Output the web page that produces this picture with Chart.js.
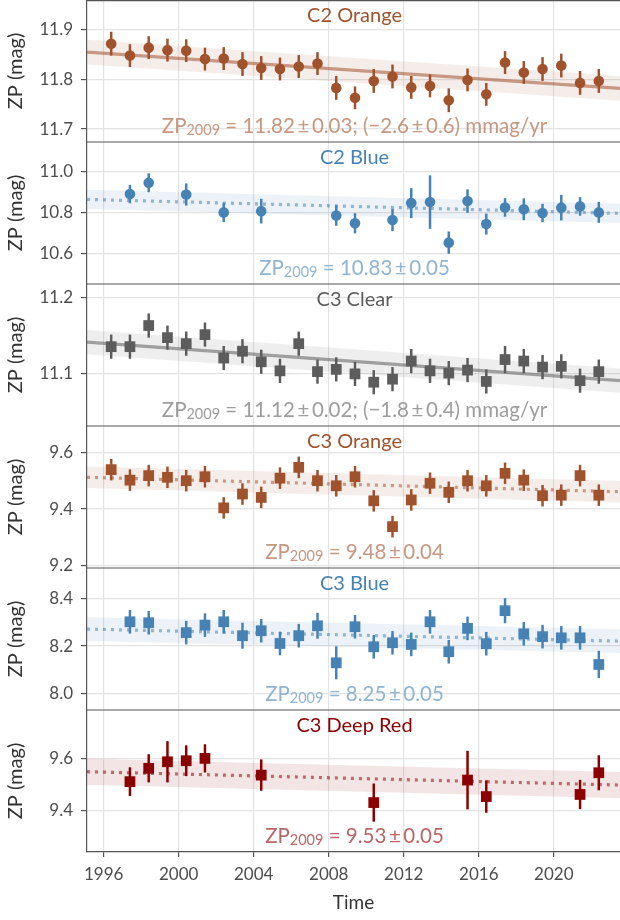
<!DOCTYPE html>
<html>
<head>
<meta charset="utf-8">
<script src="https://cdn.jsdelivr.net/npm/chart.js@4.4.1/dist/chart.umd.min.js"></script>
<style>
  html, body { margin: 0; padding: 0; background: #fff; }
  #wrap { width: 620px; height: 920px; position: relative; }
</style>
</head>
<body>
<div id="wrap"><canvas id="zp"></canvas></div>
<script>
var FONT = 'Lato, "Open Sans", sans-serif';

// time axis
var timeMin = 1995.11, timeMax = 2023.53;
var timeTicks = [1996, 2000, 2004, 2008, 2012, 2016, 2020];

// C2 Orange
var c2OrangeYears = [1996.4, 1997.4, 1998.4, 1999.4, 2000.4, 2001.4, 2002.4, 2003.4, 2004.4, 2005.4, 2006.4, 2007.4, 2008.4, 2009.4,
  2010.4, 2011.4, 2012.4, 2013.4, 2014.4, 2015.4, 2016.4, 2017.4, 2018.4, 2019.4, 2020.4, 2021.4, 2022.4];
var c2OrangeZP = [11.872, 11.848, 11.864, 11.859, 11.858, 11.841, 11.842, 11.831, 11.823, 11.821, 11.826, 11.832, 11.783, 11.763,
  11.797, 11.806, 11.784, 11.787, 11.758, 11.799, 11.770, 11.834, 11.814, 11.821, 11.828, 11.793, 11.797];
var c2OrangeErr = [0.024, 0.023, 0.023, 0.023, 0.023, 0.023, 0.023, 0.024, 0.024, 0.023, 0.023, 0.023, 0.024, 0.023,
  0.024, 0.024, 0.023, 0.023, 0.024, 0.023, 0.023, 0.023, 0.023, 0.024, 0.024, 0.024, 0.024];

// C2 Blue
var c2BlueYears = [1997.4, 1998.4, 2000.4, 2002.4, 2004.4, 2008.4, 2009.4, 2011.4, 2012.4, 2013.4, 2014.4, 2015.4, 2016.4,
  2017.4, 2018.4, 2019.4, 2020.4, 2021.4, 2022.4];
var c2BlueZP = [10.889, 10.944, 10.887, 10.800, 10.806, 10.785, 10.747, 10.763, 10.845, 10.850, 10.653, 10.855, 10.743,
  10.824, 10.815, 10.797, 10.823, 10.829, 10.800];
var c2BlueErr = [0.045, 0.046, 0.054, 0.047, 0.060, 0.050, 0.049, 0.054, 0.073, 0.130, 0.054, 0.057, 0.051,
  0.045, 0.053, 0.045, 0.062, 0.045, 0.051];

// C3 Clear
var c3ClearYears = c2OrangeYears.slice();
var c3ClearZP = [11.135, 11.135, 11.163, 11.147, 11.139, 11.151, 11.120, 11.129, 11.115, 11.103, 11.139, 11.102, 11.105, 11.099,
  11.088, 11.092, 11.116, 11.103, 11.100, 11.104, 11.089, 11.118, 11.116, 11.108, 11.109, 11.090, 11.102];
var c3ClearErr = [0.016, 0.016, 0.016, 0.016, 0.016, 0.016, 0.016, 0.016, 0.016, 0.016, 0.016, 0.016, 0.016, 0.016,
  0.016, 0.016, 0.016, 0.016, 0.016, 0.016, 0.016, 0.018, 0.016, 0.016, 0.016, 0.016, 0.016];

// C3 Orange
var c3OrangeYears = c2OrangeYears.slice();
var c3OrangeZP = [9.539, 9.502, 9.518, 9.512, 9.500, 9.514, 9.404, 9.453, 9.441, 9.509, 9.547, 9.500, 9.482, 9.514,
  9.429, 9.338, 9.432, 9.491, 9.459, 9.500, 9.482, 9.526, 9.502, 9.447, 9.449, 9.518, 9.449];
var c3OrangeErr = [0.038, 0.038, 0.038, 0.038, 0.038, 0.038, 0.038, 0.038, 0.038, 0.038, 0.038, 0.038, 0.038, 0.038,
  0.038, 0.038, 0.038, 0.038, 0.038, 0.038, 0.038, 0.038, 0.038, 0.038, 0.038, 0.038, 0.038];

// C3 Blue
var c3BlueYears = [1997.4, 1998.4, 2000.4, 2001.4, 2002.4, 2003.4, 2004.4, 2005.4, 2006.4, 2007.4, 2008.4, 2009.4, 2010.4,
  2011.4, 2012.4, 2013.4, 2014.4, 2015.4, 2016.4, 2017.4, 2018.4, 2019.4, 2020.4, 2021.4, 2022.4];
var c3BlueZP = [8.303, 8.299, 8.257, 8.289, 8.303, 8.244, 8.265, 8.211, 8.244, 8.286, 8.129, 8.282, 8.197,
  8.214, 8.207, 8.303, 8.176, 8.275, 8.210, 8.350, 8.252, 8.240, 8.235, 8.235, 8.122];
var c3BlueErr = [0.050, 0.050, 0.050, 0.050, 0.050, 0.055, 0.050, 0.050, 0.050, 0.055, 0.070, 0.050, 0.050,
  0.050, 0.050, 0.050, 0.050, 0.050, 0.050, 0.053, 0.050, 0.050, 0.050, 0.050, 0.058];

// C3 Deep Red
var c3DeepRedYears = [1997.4, 1998.4, 1999.4, 2000.4, 2001.4, 2004.4, 2010.4, 2015.4, 2016.4, 2021.4, 2022.4];
var c3DeepRedZP = [9.511, 9.562, 9.587, 9.591, 9.600, 9.536, 9.431, 9.517, 9.454, 9.462, 9.545];
var c3DeepRedErr = [0.055, 0.054, 0.079, 0.059, 0.054, 0.060, 0.073, 0.112, 0.062, 0.056, 0.067];

// fitted trend, read at the left and right edge of the plot, and half width of its band
var trendStart = [11.855, 10.863, 11.141, 9.512, 8.272, 9.549];
var trendEnd = [11.782, 10.795, 11.090, 9.461, 8.221, 9.498];
var bandHalf = [0.025, 0.047, 0.016, 0.038, 0.050, 0.050];

// y axes
var axisMin = [11.674, 10.452, 11.030, 9.192, 7.929, 9.242];
var axisMax = [11.960, 11.142, 11.218, 9.693, 8.531, 9.785];
var yTicks = [[11.7, 11.8, 11.9], [10.6, 10.8, 11.0], [11.1, 11.2], [9.2, 9.4, 9.6], [8.0, 8.2, 8.4], [9.4, 9.6]];

var filterNames = ['C2 Orange', 'C2 Blue', 'C3 Clear', 'C3 Orange', 'C3 Blue', 'C3 Deep Red'];
var zpTexts = [
  ' = 11.82\u2009±\u20090.03; (\u22122.6\u2009±\u20090.6) mmag/yr',
  ' = 10.83\u2009±\u20090.05',
  ' = 11.12\u2009±\u20090.02; (\u22121.8\u2009±\u20090.4) mmag/yr',
  ' = 9.48\u2009±\u20090.04',
  ' = 8.25\u2009±\u20090.05',
  ' = 9.53\u2009±\u20090.05'
];

var panels = [
  { years: c2OrangeYears, zp: c2OrangeZP, err: c2OrangeErr, rgb: [160, 82, 45], marker: 'circle', dotted: false },
  { years: c2BlueYears, zp: c2BlueZP, err: c2BlueErr, rgb: [70, 130, 180], marker: 'circle', dotted: true },
  { years: c3ClearYears, zp: c3ClearZP, err: c3ClearErr, rgb: [92, 92, 92], marker: 'rect', dotted: false },
  { years: c3OrangeYears, zp: c3OrangeZP, err: c3OrangeErr, rgb: [160, 82, 45], marker: 'rect', dotted: true },
  { years: c3BlueYears, zp: c3BlueZP, err: c3BlueErr, rgb: [70, 130, 180], marker: 'rect', dotted: true },
  { years: c3DeepRedYears, zp: c3DeepRedZP, err: c3DeepRedErr, rgb: [139, 0, 0], marker: 'rect', dotted: true }
];

function rgba(c, a) { return 'rgba(' + c[0] + ',' + c[1] + ',' + c[2] + ',' + a + ')'; }
function tint(c, a) {
  return 'rgb(' + c.map(function (v) { return Math.round(255 - a * (255 - v)); }).join(',') + ')';
}
function noPad(s) { s.paddingTop = 0; s.paddingBottom = 0; s.paddingLeft = 0; s.paddingRight = 0; }

var GRID = '#e3e3e3';
var AXIS = '#555555';

var datasets = [];
var scales = {
  x: {
    type: 'linear', position: 'bottom', min: timeMin, max: timeMax,
    afterBuildTicks: function (s) { s.ticks = timeTicks.map(function (v) { return { value: v }; }); },
    afterFit: function (s) { s.height = 68; noPad(s); },
    ticks: {
      callback: function (v) { return String(v); },
      color: '#4d4d4d', font: { family: FONT, size: 17 }, padding: 7, maxRotation: 0, autoSkip: false
    },
    grid: { color: GRID, lineWidth: 1.2, tickLength: 5, tickColor: AXIS, tickWidth: 1.2 },
    border: { color: AXIS, width: 1.2 },
    title: { display: true, text: 'Time', color: '#333', font: { family: FONT, size: 19 }, padding: { top: 0, bottom: 6 } }
  }
};

panels.forEach(function (p, i) {
  var id = 'y' + i;
  scales[id] = {
    type: 'linear', position: 'left', stack: 'zp', stackWeight: 1, weight: 6 - i,
    min: axisMin[i], max: axisMax[i],
    afterBuildTicks: function (s) { s.ticks = yTicks[i].map(function (v) { return { value: v }; }); },
    afterFit: function (s) { s.width = 87; noPad(s); },
    ticks: {
      callback: function (v) { return v.toFixed(1); },
      color: '#4d4d4d', font: { family: FONT, size: 17 }, padding: 8
    },
    grid: { color: GRID, lineWidth: 1.2, tickLength: 6, tickColor: AXIS, tickWidth: 1.2 },
    border: { color: AXIS, width: 1.2 },
    title: { display: true, text: 'ZP (mag)', color: '#333', font: { family: FONT, size: 20 }, padding: { top: 4, bottom: 0 } }
  };

  datasets.push({
    type: 'scatter', yAxisID: id, order: 0,
    data: p.years.map(function (t, j) { return { x: t, y: p.zp[j] }; }),
    errors: p.err,
    pointStyle: p.marker,
    pointRadius: p.marker === 'circle' ? 5.3 : 7.6,
    backgroundColor: rgba(p.rgb, 1), borderColor: rgba(p.rgb, 1), borderWidth: 0
  });
  datasets.push({
    type: 'line', yAxisID: id, order: 1,
    data: [{ x: timeMin, y: trendStart[i] }, { x: timeMax, y: trendEnd[i] }],
    borderColor: rgba(p.rgb, 0.55), borderWidth: 3.2,
    borderDash: p.dotted ? [3, 5] : [], borderCapStyle: 'butt',
    pointRadius: 0, fill: false
  });
  datasets.push({
    type: 'line', yAxisID: id, order: 2,
    data: [{ x: timeMin, y: trendStart[i] + bandHalf[i] }, { x: timeMax, y: trendEnd[i] + bandHalf[i] }],
    borderWidth: 0, pointRadius: 0, fill: false
  });
  datasets.push({
    type: 'line', yAxisID: id, order: 2,
    data: [{ x: timeMin, y: trendStart[i] - bandHalf[i] }, { x: timeMax, y: trendEnd[i] - bandHalf[i] }],
    borderWidth: 0, pointRadius: 0, fill: '-1', backgroundColor: rgba(p.rgb, 0.1)
  });
});

var errorBars = {
  id: 'errorBars',
  beforeDatasetDraw: function (chart, args) {
    var ds = chart.data.datasets[args.index];
    if (!ds.errors) return;
    var ys = chart.scales[ds.yAxisID];
    var ctx = chart.ctx;
    ctx.save();
    ctx.strokeStyle = ds.borderColor;
    ctx.lineWidth = 2.5;
    args.meta.data.forEach(function (pt, j) {
      var v = ds.data[j].y, e = ds.errors[j];
      ctx.beginPath();
      ctx.moveTo(pt.x, ys.getPixelForValue(v - e));
      ctx.lineTo(pt.x, ys.getPixelForValue(v + e));
      ctx.stroke();
    });
    ctx.restore();
  }
};

var panelText = {
  id: 'panelText',
  afterDraw: function (chart) {
    var ctx = chart.ctx, area = chart.chartArea;
    var cx = (area.left + area.right) / 2 + 1;
    ctx.save();
    panels.forEach(function (p, i) {
      var s = chart.scales['y' + i];
      // panel top border
      ctx.strokeStyle = AXIS;
      ctx.lineWidth = 1.2;
      ctx.beginPath();
      ctx.moveTo(area.left, Math.max(s.top, 0.6));
      ctx.lineTo(area.right, Math.max(s.top, 0.6));
      ctx.stroke();

      ctx.textBaseline = 'middle';
      ctx.textAlign = 'center';
      ctx.fillStyle = rgba(p.rgb, 1);
      ctx.font = '20px ' + FONT;
      ctx.fillText(filterNames[i], cx, s.top + 16);

      // ZP_2009 annotation
      var big = '20.5px ' + FONT, small = '14.5px ' + FONT;
      ctx.font = big; var w1 = ctx.measureText('ZP').width; var w3 = ctx.measureText(zpTexts[i]).width;
      ctx.font = small; var w2 = ctx.measureText('2009').width;
      var x0 = cx - (w1 + w2 + w3) / 2, y = s.top + 126;
      ctx.textAlign = 'left';
      ctx.fillStyle = tint(p.rgb, 0.6);
      ctx.font = big; ctx.fillText('ZP', x0, y);
      ctx.font = small; ctx.fillText('2009', x0 + w1, y + 4);
      ctx.font = big; ctx.fillText(zpTexts[i], x0 + w1 + w2, y);
    });
    ctx.restore();
  }
};

new Chart(document.getElementById('zp'), {
  data: { datasets: datasets },
  options: {
    responsive: true,
    maintainAspectRatio: false,
    animation: false,
    devicePixelRatio: 1,
    layout: { padding: 0, autoPadding: false },
    plugins: { legend: { display: false }, tooltip: { enabled: false } },
    scales: scales
  },
  plugins: [errorBars, panelText]
});
</script>
</body>
</html>
